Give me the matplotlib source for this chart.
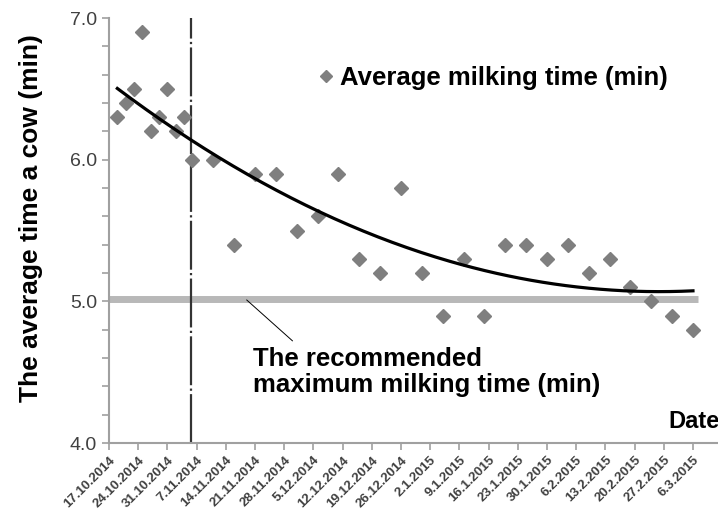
import numpy as np
import pandas as pd
import matplotlib
matplotlib.use('Agg')
import matplotlib.pyplot as plt

plt.rcParams['font.family'] = ['Liberation Sans', 'DejaVu Sans']

# data
dates = ['2014-10-19', '2014-10-21', '2014-10-23', '2014-10-25', '2014-10-27',
         '2014-10-29', '2014-10-31', '2014-11-02', '2014-11-04', '2014-11-06',
         '2014-11-11', '2014-11-16', '2014-11-21', '2014-11-26', '2014-12-01',
         '2014-12-06', '2014-12-11', '2014-12-16', '2014-12-21', '2014-12-26',
         '2014-12-31', '2015-01-05', '2015-01-10', '2015-01-15', '2015-01-20',
         '2015-01-25', '2015-01-30', '2015-02-04', '2015-02-09', '2015-02-14',
         '2015-02-19', '2015-02-24', '2015-03-01', '2015-03-06']
milking_time = [6.3, 6.4, 6.5, 6.9, 6.2, 6.3, 6.5, 6.2, 6.3, 6.0,
                6.0, 5.4, 5.9, 5.9, 5.5, 5.6, 5.9, 5.3, 5.2, 5.8,
                5.2, 4.9, 5.3, 4.9, 5.4, 5.4, 5.3, 5.4, 5.2, 5.3,
                5.1, 5.0, 4.9, 4.8]
tick_labels = ['17.10.2014', '24.10.2014', '31.10.2014', '7.11.2014', '14.11.2014',
               '21.11.2014', '28.11.2014', '5.12.2014', '12.12.2014', '19.12.2014',
               '26.12.2014', '2.1.2015', '9.1.2015', '16.1.2015', '23.1.2015',
               '30.1.2015', '6.2.2015', '13.2.2015', '20.2.2015', '27.2.2015',
               '6.3.2015']
recommended_max = 5.02
change_date = '2014-11-05 16:00'
start_date = '2014-10-17'
end_date = '2015-03-12'

# day numbers from the first tick
t0 = pd.Timestamp(start_date)
days = np.array([(pd.Timestamp(d) - t0).days for d in dates], dtype=float)
tick_days = [(pd.to_datetime(s, format='%d.%m.%Y') - t0).days for s in tick_labels]
change_day = (pd.Timestamp(change_date) - t0) / pd.Timedelta(days=1)
end_day = (pd.Timestamp(end_date) - t0).days

fig = plt.figure(figsize=(7.18, 5.15), dpi=100)
ax = fig.add_axes([109/718, 72/515, 609/718, 425/515])

# recommended maximum
ax.hlines(recommended_max, 0, 141.3, color='#b8b8b8', lw=5, zorder=1)

# vertical marker line
ax.axvline(change_day, color='#333333', lw=1.6, dashes=(22, 1.5, 1, 1.5), zorder=2)

# points
ax.plot(days, milking_time, 'D', color='#7f7f7f', markersize=7.5, zorder=3,
        label='Average milking time (min)')

# 2nd order trend line
coef = np.polyfit(days, milking_time, 2)
xs = np.linspace(days[0], days[-1], 200)
ax.plot(xs, np.polyval(coef, xs), color='black', lw=2.3, zorder=4)

ax.set_xlim(0, end_day)
ax.set_ylim(4.0, 7.0)
ax.set_xticks(tick_days)
ax.set_xticklabels(tick_labels, rotation=45, ha='right', rotation_mode='anchor',
                   fontsize=9.5, fontweight='bold', color='#404040')
ax.set_yticks([4.0, 5.0, 6.0, 7.0])
ax.set_yticklabels(['4.0', '5.0', '6.0', '7.0'], fontsize=14, color='#404040')
ax.set_yticks(np.arange(4.0, 7.01, 0.2), minor=True)
ax.tick_params(axis='both', which='both', direction='out', length=5, width=1.2,
               color='#a0a0a0')
ax.tick_params(axis='x', pad=3)

for side in ['top', 'right']:
    ax.spines[side].set_visible(False)
for side in ['left', 'bottom']:
    ax.spines[side].set_color('#a0a0a0')
    ax.spines[side].set_linewidth(1.5)

ax.set_ylabel('The average time a cow (min)', fontsize=19, fontweight='bold')
ax.yaxis.set_label_coords(-0.108, 0.529)

ax.text(1.002, 0.05, 'Date', transform=ax.transAxes, ha='right', va='center',
        fontsize=17, fontweight='bold')

ax.annotate('The recommended\nmaximum milking time (min)',
            xy=(33, recommended_max - 0.01), xytext=(34.5, 4.675),
            fontsize=18.5, fontweight='bold', ha='left', va='top',
            linespacing=1.1,
            arrowprops=dict(arrowstyle='-', color='black', lw=0.7,
                            shrinkA=4, shrinkB=0, relpos=(0.135, 1.0)))

leg = ax.legend(loc='center left', bbox_to_anchor=(0.343, 0.86), frameon=False,
                handlelength=0.6, handletextpad=0.25, markerscale=0.85,
                borderaxespad=0, borderpad=0,
                prop={'size': 18.5, 'weight': 'bold'})

fig.savefig('out.png', dpi=100)
